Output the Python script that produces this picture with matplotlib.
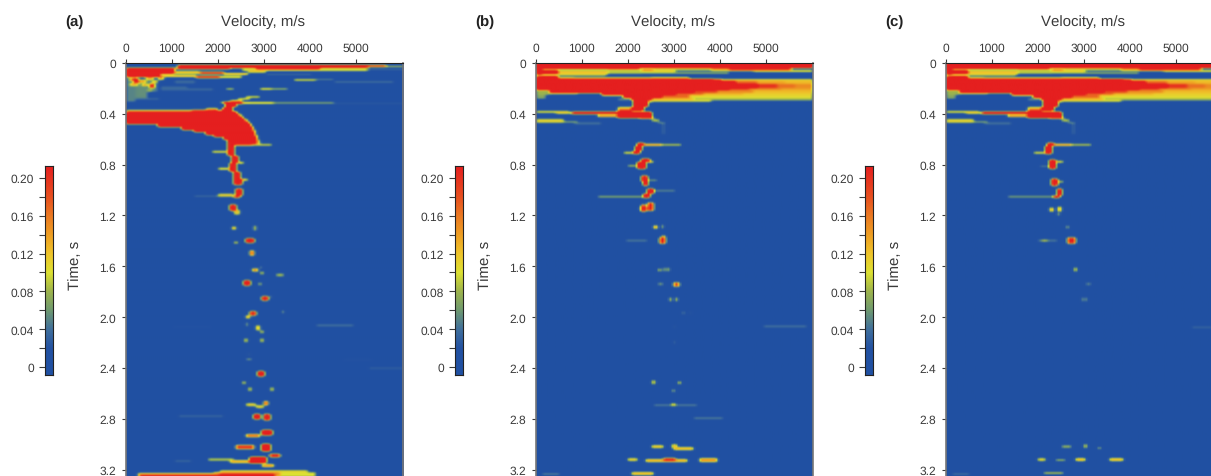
import numpy as np
import matplotlib
matplotlib.use('Agg')
import matplotlib.pyplot as plt
from matplotlib.colors import LinearSegmentedColormap, Normalize

plt.rcParams['font.family'] = ['Liberation Sans', 'DejaVu Sans']
plt.rcParams['text.hinting'] = 'no_hinting'
plt.rcParams['text.hinting_factor'] = 1

W, H = 1211, 477
TEXT = '#3a3a3a'

# value scale of the colour bar
cbar_stops = [-0.0085, 0.02, 0.04, 0.06, 0.08, 0.10, 0.12, 0.14, 0.16, 0.18, 0.2127]
cbar_colors = ['#2050a2', '#2352a2', '#41709c', '#6f9a70', '#9db44c', '#dde132',
               '#efc42a', '#ee9e22', '#eb7a22', '#e8501f', '#e51f1f']
cbar_ticks = [0, 0.04, 0.08, 0.12, 0.16, 0.20]
cbar_labels = ['0', '0.04', '0.08', '0.12', '0.16', '0.20']
v_ticks = [0, 1000, 2000, 3000, 4000, 5000]
t_ticks = [0, 0.4, 0.8, 1.2, 1.6, 2.0, 2.4, 2.8, 3.2]
t_labels = ['0', '0.4', '0.8', '1.2', '1.6', '2.0', '2.4', '2.8', '3.2']

# the big red body of panel a, read row by row: time, left and right velocity
a_body_t = [0.30, 0.32, 0.34, 0.36, 0.37, 0.38, 0.40, 0.42, 0.44, 0.46, 0.48, 0.50,
            0.52, 0.54, 0.56, 0.58, 0.60, 0.62, 0.635]
a_body_l = [2080, 2130, 2090, 2050, 1900, 0, 0, 0, 0, 0, 670, 1200,
            1450, 1720, 1900, 2080, 2200, 2300, 2380]
a_body_r = [2500, 2340, 2290, 2260, 2290, 2340, 2410, 2480, 2540, 2600, 2650, 2690,
            2720, 2750, 2770, 2790, 2800, 2810, 2820]

# bands: t start, t end, v start, v end, value
a_bands = [
    (0.012, 0.035, 1090, 5200, 0.27), (0.012, 0.03, 5200, 5600, 0.22), (0.016, 0.03, 5600, 6000, 0.15),
    (0.035, 0.045, 0, 2250, 0.27), (0.035, 0.045, 2800, 4200, 0.27),
    (0.045, 0.058, 2500, 5200, 0.125), (0.045, 0.054, 5200, 6000, 0.07),
    (0.035, 0.085, 0, 1000, 0.27), (0.085, 0.105, 0, 700, 0.27),
    (0.06, 0.085, 1000, 1600, 0.13), (0.07, 0.085, 1600, 2100, 0.24), (0.075, 0.09, 2100, 2600, 0.15),
    (0.09, 0.11, 700, 1500, 0.15), (0.095, 0.115, 1500, 2000, 0.24), (0.10, 0.115, 2000, 2500, 0.13),
    (0.055, 0.075, 2600, 3000, 0.11), (0.08, 0.09, 3000, 4000, 0.07),
    (0.12, 0.135, 3600, 4100, 0.11), (0.122, 0.132, 4100, 4500, 0.09), (0.14, 0.15, 4500, 5800, 0.045),
    (0.105, 0.30, 0, 200, 0.05), (0.12, 0.27, 200, 450, 0.055), (0.13, 0.225, 450, 650, 0.05),
    (0.27, 0.29, 200, 700, 0.04), (0.13, 0.16, 1000, 1500, 0.035), (0.18, 0.22, 700, 1300, 0.035),
    (0.19, 0.22, 1100, 1900, 0.035),
    (0.193, 0.207, 2130, 2300, 0.09), (0.193, 0.21, 2870, 3150, 0.12), (0.195, 0.207, 3150, 3500, 0.08),
    (0.255, 0.27, 2560, 2900, 0.11), (0.27, 0.285, 2400, 2650, 0.11), (0.285, 0.30, 2250, 2500, 0.13),
    (0.30, 0.31, 2000, 2600, 0.15), (0.302, 0.318, 2350, 3200, 0.13),
    (0.306, 0.32, 3200, 4500, 0.075), (0.308, 0.32, 4500, 6000, 0.05),
    (0.35, 0.37, 1700, 1950, 0.12), (0.365, 0.38, 0, 1400, 0.13), (0.368, 0.38, 1400, 1950, 0.22),
    (0.633, 0.647, 2300, 2700, 0.17), (0.634, 0.646, 2700, 3130, 0.11),
    (0.62, 0.73, 2190, 2300, 0.27), (0.69, 0.708, 1860, 2190, 0.12),
    (0.73, 0.78, 2260, 2400, 0.27), (0.772, 0.788, 2400, 2550, 0.13),
    (0.78, 0.85, 2220, 2370, 0.27), (0.825, 0.84, 1970, 2220, 0.13),
    (0.85, 0.91, 2300, 2440, 0.27), (0.91, 0.96, 2300, 2480, 0.27), (0.912, 0.928, 2480, 2620, 0.14),
    (0.99, 1.04, 2370, 2510, 0.27), (1.04, 1.06, 2300, 2440, 0.24), (1.04, 1.052, 1460, 2300, 0.075),
    (1.03, 1.05, 1980, 2300, 0.12), (1.11, 1.16, 2240, 2340, 0.27), (1.155, 1.19, 2300, 2440, 0.12),
    (2.68, 2.70, 2585, 2800, 0.12), (2.695, 2.72, 2800, 2950, 0.12),
    (3.11, 3.135, 1750, 2330, 0.085), (3.125, 3.15, 2250, 2700, 0.14),
    (3.205, 3.225, 2000, 3900, 0.11), (3.225, 3.26, 1900, 3300, 0.15), (3.23, 3.26, 250, 1900, 0.15),
    (3.225, 3.26, 3300, 4100, 0.10), (3.235, 3.30, 2000, 3200, 0.27), (3.243, 3.30, 300, 2000, 0.22),
    (3.13, 3.148, 1000, 1400, 0.04), (2.775, 2.79, 1100, 2100, 0.04),
    (2.06, 2.075, 4100, 4900, 0.05), (2.072, 2.085, 1000, 1800, 0.035),
    (2.33, 2.345, 4700, 5300, 0.04), (2.395, 2.41, 5200, 6000, 0.035),
]

# spots: t, v, half height, half width, value
a_spots = [
    (0.125, 120, 0.012, 60, 0.17), (0.135, 190, 0.018, 50, 0.25), (0.14, 330, 0.01, 80, 0.14),
    (0.12, 500, 0.012, 90, 0.13), (0.165, 160, 0.01, 90, 0.13), (0.17, 400, 0.008, 60, 0.15),
    (0.175, 545, 0.016, 35, 0.25), (0.15, 560, 0.012, 40, 0.14), (0.21, 500, 0.012, 50, 0.09),
    (0.12, 750, 0.01, 60, 0.14), (0.145, 620, 0.012, 30, 0.11),
    (1.30, 2310, 0.012, 35, 0.15), (1.30, 2780, 0.02, 25, 0.15), (1.409, 2354, 0.008, 30, 0.13),
    (1.396, 2657, 0.018, 90, 0.29), (1.493, 2693, 0.02, 35, 0.2), (1.63, 2801, 0.014, 50, 0.17),
    (1.63, 2708, 0.012, 22, 0.14), (1.611, 2910, 0.01, 30, 0.10), (1.651, 2924, 0.01, 30, 0.10),
    (1.672, 3314, 0.012, 70, 0.085), (1.73, 2606, 0.02, 70, 0.29), (1.743, 2874, 0.012, 50, 0.08),
    (1.855, 2982, 0.016, 70, 0.27), (1.84, 3126, 0.012, 22, 0.07), (1.971, 2708, 0.018, 65, 0.25),
    (2.0, 2606, 0.014, 40, 0.16), (1.96, 3365, 0.014, 30, 0.10), (2.058, 2585, 0.014, 30, 0.10),
    (2.084, 2837, 0.02, 35, 0.14), (2.118, 2910, 0.01, 40, 0.10), (2.186, 2570, 0.014, 50, 0.10),
    (2.186, 2924, 0.014, 35, 0.10), (2.333, 2635, 0.01, 55, 0.07), (2.294, 2635, 0.014, 28, 0.045),
    (2.449, 2895, 0.02, 70, 0.3), (2.517, 2534, 0.01, 30, 0.10), (2.57, 2657, 0.014, 35, 0.10),
    (2.57, 3148, 0.014, 55, 0.10), (2.682, 2996, 0.016, 45, 0.21), (2.785, 2823, 0.02, 75, 0.3),
    (2.79, 3018, 0.02, 60, 0.27), (2.937, 2729, 0.014, 140, 0.17), (2.911, 3040, 0.018, 100, 0.3),
    (3.026, 2549, 0.018, 180, 0.2), (3.029, 2996, 0.028, 90, 0.32), (3.126, 2837, 0.024, 180, 0.32),
    (3.094, 3213, 0.01, 110, 0.25), (3.173, 3054, 0.01, 140, 0.15),
]

# velocity spectrum top shared by panels b and c
top_bands = [
    (0.0, 0.035, 0, 6000, 0.28), (0.035, 0.045, 0, 2250, 0.27),
    (0.035, 0.06, 2530, 3780, 0.085), (0.035, 0.06, 3780, 4200, 0.14), (0.03, 0.06, 4200, 4700, 0.2),
    (0.03, 0.05, 4700, 5500, 0.21), (0.05, 0.065, 4700, 6000, 0.125),
    (0.045, 0.09, 0, 90, 0.27), (0.05, 0.085, 90, 460, 0.27), (0.05, 0.09, 460, 1540, 0.118),
    (0.045, 0.08, 1540, 2260, 0.09), (0.05, 0.07, 2260, 3000, 0.12), (0.07, 0.082, 1000, 4200, 0.08),
    (0.045, 0.055, 2260, 2530, 0.21), (0.085, 0.095, 90, 1500, 0.08),
    (0.10, 0.125, 0, 460, 0.27), (0.105, 0.122, 460, 800, 0.13), (0.105, 0.12, 800, 2500, 0.11),
    (0.105, 0.12, 2500, 3300, 0.13),
    (0.125, 0.205, 0, 3850, 0.28),
    (0.125, 0.14, 3850, 4000, 0.21), (0.125, 0.14, 4000, 6000, 0.118),
    (0.14, 0.16, 3850, 4300, 0.27), (0.14, 0.16, 4300, 4800, 0.17), (0.14, 0.16, 4800, 5400, 0.135),
    (0.14, 0.16, 5400, 6000, 0.125),
    (0.16, 0.19, 3850, 4800, 0.27), (0.16, 0.19, 4800, 5200, 0.2), (0.16, 0.19, 5200, 5600, 0.165),
    (0.16, 0.19, 5600, 6000, 0.15),
    (0.19, 0.205, 3850, 4200, 0.27), (0.19, 0.205, 4200, 4600, 0.19), (0.19, 0.205, 4600, 5300, 0.155),
    (0.19, 0.205, 5300, 6000, 0.14),
    (0.205, 0.23, 300, 3400, 0.28), (0.205, 0.23, 3400, 3900, 0.19), (0.205, 0.23, 3900, 4700, 0.15),
    (0.205, 0.23, 4700, 6000, 0.125),
    (0.23, 0.25, 1400, 3000, 0.28), (0.23, 0.25, 3000, 3600, 0.17), (0.23, 0.25, 3600, 4500, 0.13),
    (0.23, 0.25, 4500, 6000, 0.115),
    (0.25, 0.27, 1900, 2700, 0.28), (0.25, 0.27, 2700, 3300, 0.17), (0.25, 0.27, 3300, 6000, 0.108),
    (0.27, 0.285, 2050, 2500, 0.28), (0.27, 0.285, 2500, 3400, 0.125), (0.27, 0.285, 3400, 6000, 0.085),
    (0.285, 0.30, 2080, 2400, 0.28), (0.285, 0.30, 2400, 3800, 0.11), (0.285, 0.298, 3800, 6000, 0.06),
    (0.30, 0.34, 2115, 2400, 0.28), (0.34, 0.37, 2040, 2300, 0.28), (0.30, 0.312, 2400, 2500, 0.11),
    (0.205, 0.25, 0, 300, 0.08), (0.25, 0.28, 0, 200, 0.07), (0.23, 0.245, 300, 900, 0.06),
    (0.24, 0.26, 1400, 1900, 0.06), (0.275, 0.295, 1750, 2080, 0.05),
    (0.34, 0.37, 1750, 2050, 0.13), (0.365, 0.38, 1750, 2040, 0.22),
    (0.372, 0.39, 0, 700, 0.12), (0.38, 0.40, 740, 2480, 0.28), (0.392, 0.40, 400, 740, 0.13),
    (0.40, 0.425, 1750, 2480, 0.28), (0.405, 0.42, 1300, 1750, 0.18), (0.42, 0.435, 2250, 2550, 0.16),
    (0.435, 0.46, 2480, 2650, 0.085), (0.46, 0.48, 2600, 2780, 0.055), (0.48, 0.56, 2700, 2780, 0.035),
    (0.44, 0.465, 0, 600, 0.11), (0.45, 0.47, 600, 900, 0.07), (0.46, 0.485, 800, 1400, 0.04),
    (0.634, 0.646, 2330, 2700, 0.17), (0.634, 0.646, 2700, 3130, 0.10),
]

b_bands = [
    (0.625, 0.65, 2190, 2330, 0.28), (0.65, 0.69, 2130, 2290, 0.28), (0.69, 0.715, 2080, 2250, 0.28),
    (0.70, 0.712, 1870, 2080, 0.12), (0.755, 0.775, 2260, 2430, 0.28), (0.775, 0.83, 2200, 2340, 0.28),
    (0.77, 0.782, 2400, 2550, 0.13), (0.80, 0.815, 1950, 2200, 0.09),
    (0.885, 0.93, 2290, 2420, 0.26), (0.93, 0.965, 2300, 2400, 0.28), (0.913, 0.927, 2420, 2600, 0.12),
    (0.99, 1.03, 2400, 2530, 0.28), (1.03, 1.055, 2300, 2440, 0.28), (1.045, 1.059, 1300, 2300, 0.08),
    (0.998, 1.012, 2530, 3000, 0.06), (1.11, 1.17, 2290, 2350, 0.24), (1.10, 1.16, 2420, 2520, 0.22),
    (1.13, 1.16, 2230, 2520, 0.12),
    (1.388, 1.402, 1940, 2410, 0.055), (2.068, 2.082, 4935, 5870, 0.05), (2.688, 2.702, 2550, 3500, 0.055),
    (2.79, 2.805, 3380, 4070, 0.055), (3.012, 3.032, 2480, 2730, 0.125), (3.028, 3.048, 2985, 3420, 0.135),
    (3.115, 3.138, 1975, 2190, 0.12), (3.118, 3.142, 2370, 3270, 0.14), (3.115, 3.138, 2770, 2990, 0.22),
    (3.115, 3.142, 3530, 3925, 0.145), (3.222, 3.243, 2050, 2550, 0.135), (3.232, 3.25, 100, 500, 0.055),
]
b_spots = [
    (1.29, 2585, 0.014, 45, 0.17), (1.285, 2730, 0.017, 22, 0.11), (1.375, 2740, 0.014, 50, 0.15),
    (1.396, 2733, 0.024, 75, 0.22), (1.627, 2660, 0.012, 25, 0.09), (1.627, 2755, 0.014, 25, 0.11),
    (1.627, 2841, 0.014, 25, 0.12), (1.743, 3036, 0.016, 65, 0.19), (1.743, 2700, 0.012, 70, 0.06),
    (1.861, 2913, 0.014, 28, 0.14), (1.861, 3036, 0.014, 28, 0.14), (1.97, 3180, 0.012, 28, 0.045),
    (1.97, 3330, 0.012, 28, 0.045), (2.076, 2986, 0.014, 30, 0.045), (2.2, 2986, 0.016, 32, 0.055),
    (2.517, 2538, 0.016, 28, 0.11), (2.52, 3108, 0.014, 42, 0.095), (2.583, 2964, 0.014, 32, 0.07),
    (2.693, 2964, 0.014, 32, 0.12), (3.02, 2985, 0.014, 55, 0.12),
]

c_bands = [
    (0.625, 0.65, 2190, 2300, 0.28), (0.65, 0.71, 2130, 2270, 0.28), (0.70, 0.712, 1870, 2130, 0.12),
    (0.76, 0.83, 2230, 2340, 0.28), (0.77, 0.782, 2340, 2530, 0.12), (0.805, 0.817, 2000, 2230, 0.09),
    (0.91, 0.965, 2290, 2400, 0.26), (0.923, 0.937, 2400, 2550, 0.10),
    (0.99, 1.04, 2400, 2500, 0.28), (1.04, 1.055, 2300, 2440, 0.28), (1.045, 1.059, 1300, 2300, 0.075),
    (1.14, 1.17, 2250, 2320, 0.15), (1.13, 1.17, 2420, 2500, 0.14), (1.18, 1.2, 2400, 2460, 0.12),
    (1.388, 1.402, 1950, 2400, 0.055), (3.012, 3.03, 2480, 2700, 0.075), (3.122, 3.138, 2370, 2560, 0.085),
    (3.115, 3.138, 1990, 2150, 0.115), (3.115, 3.138, 2800, 3000, 0.135), (3.115, 3.138, 3530, 3820, 0.135),
    (3.222, 3.242, 2120, 2550, 0.095), (2.073, 2.087, 5300, 5800, 0.04), (3.232, 3.25, 100, 500, 0.045),
]
c_spots = [
    (1.29, 2620, 0.014, 45, 0.07), (1.396, 2711, 0.024, 75, 0.22), (1.396, 2120, 0.008, 50, 0.11),
    (1.627, 2790, 0.014, 55, 0.10), (1.743, 3060, 0.012, 65, 0.05), (1.861, 2930, 0.014, 24, 0.09),
    (1.861, 3036, 0.014, 24, 0.09), (3.02, 3000, 0.016, 55, 0.095), (3.035, 3310, 0.008, 55, 0.085),
]


def build_grid(bands, spots):
    # paint the read values on a time/velocity grid, then soften the edges a bit
    tt = np.arange(0, 3.31, 0.00787)
    vv = np.arange(0, 6000, 43.3)
    z = np.zeros((len(tt), len(vv)))
    for t0, t1, v0, v1, val in bands:
        m = np.ix_((tt >= t0) & (tt < t1), (vv >= v0) & (vv < v1))
        z[m] = np.maximum(z[m], val)
    for t, v, dt, dv, val in spots:
        m = np.ix_(np.abs(tt - t) <= dt, np.abs(vv - v) <= dv)
        z[m] = np.maximum(z[m], val)
    return smooth(smooth(z, 0), 1), tt[-1]


def smooth(z, axis):
    k = np.array([0.25, 0.5, 0.25])
    return np.apply_along_axis(lambda r: np.convolve(r, k, mode='same'), axis, z)


def px_axes(fig, x0, y0, x1, y1):
    # pixel box, y counted from the top of the picture
    return fig.add_axes([x0 / W, 1 - y1 / H, (x1 - x0) / W, (y1 - y0) / H])


span_a = list(a_bands)
for i in range(len(a_body_t) - 1):
    span_a.append((a_body_t[i], a_body_t[i + 1], a_body_l[i], a_body_r[i], 0.29))
# lower edge of the body stays hard, right edge gets its yellow rim
for i in range(4, len(a_body_t) - 1):
    span_a.append((a_body_t[i], a_body_t[i + 1], a_body_r[i], a_body_r[i] + 60, 0.125))

panels = [
    ('(a)', 125.5, span_a, a_spots),
    ('(b)', 535.5, top_bands + b_bands, b_spots),
    ('(c)', 945.5, top_bands + c_bands, c_spots),
]

cmap = LinearSegmentedColormap.from_list(
    'spec', [((s - cbar_stops[0]) / (cbar_stops[-1] - cbar_stops[0]), c) for s, c in zip(cbar_stops, cbar_colors)])
norm = Normalize(cbar_stops[0], cbar_stops[-1])

fig = plt.figure(figsize=(W / 100, H / 100), dpi=100)

for label, x0, bands, spots in panels:
    ax = px_axes(fig, x0, 64, x0 + 277, 477)
    z, t_end = build_grid(bands, spots)
    # the soft look of the print: a light blur over the coloured cells
    rgb = smooth(cmap(norm(z))[:, :, :3], 0)
    rgb[0] = rgb[1]
    rgb[-1] = rgb[-2]
    ax.imshow(rgb, aspect='auto', extent=[0, 6000, t_end, 0], interpolation='bilinear')
    ax.set_ylim(3.25, 0)
    ax.xaxis.tick_top()
    ax.set_xticks(v_ticks)
    ax.set_yticks(t_ticks)
    ax.set_yticklabels(t_labels)
    ax.tick_params(axis='both', labelsize=8.3, length=3, width=0.8, pad=4, colors=TEXT)
    ax.spines['top'].set_color('#222222')
    ax.spines['left'].set_color('#777777')
    ax.spines['left'].set_linewidth(1.2)
    ax.spines['right'].set_color('#777777')
    ax.spines['right'].set_linewidth(1.2)
    ax.spines['bottom'].set_visible(False)

    fig.text((x0 + 138) / W, 1 - 22 / H, 'Velocity, m/s', fontsize=11, color=TEXT, ha='center', va='center')
    fig.text((x0 - 51) / W, 1 - 22 / H, label, fontsize=10.5, fontweight='bold', color='#222222',
             ha='center', va='center')
    fig.text((x0 - 50) / W, 1 - 265 / H, 'Time, s', fontsize=11, color=TEXT, rotation=90,
             ha='center', va='center')

    cax = px_axes(fig, x0 - 80.5, 167, x0 - 73, 376)
    ramp = np.linspace(cbar_stops[-1], cbar_stops[0], 256).reshape(-1, 1)
    cax.imshow(ramp, cmap=cmap, vmin=cbar_stops[0], vmax=cbar_stops[-1], aspect='auto',
               extent=[0, 1, cbar_stops[0], cbar_stops[-1]])
    cax.set_xticks([])
    cax.set_yticks(cbar_ticks)
    cax.set_yticklabels(cbar_labels)
    cax.set_yticks([0.02, 0.06, 0.10, 0.14, 0.18], minor=True)
    cax.tick_params(axis='y', which='major', labelsize=8.3, length=4, width=0.8, pad=4, colors=TEXT)
    cax.tick_params(axis='y', which='minor', length=4, width=0.8, colors=TEXT)
    for s in cax.spines.values():
        s.set_linewidth(0.8)
        s.set_color('#222222')

fig.savefig('out.png', dpi=100)
